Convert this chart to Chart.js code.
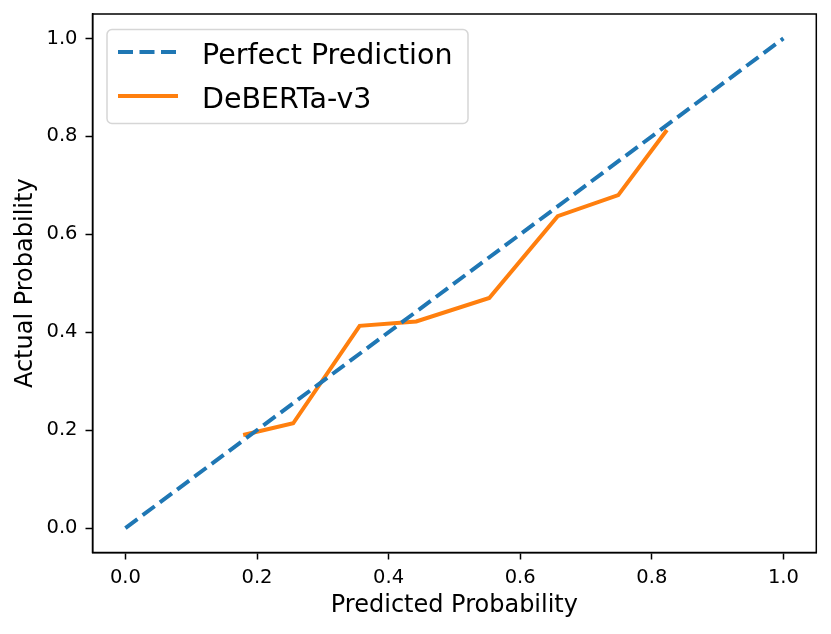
<!DOCTYPE html>
<html>
<head>
<meta charset="utf-8">
<script src="https://cdn.jsdelivr.net/npm/chart.js@4.4.1/dist/chart.umd.min.js"></script>
<style>
  html, body { margin: 0; padding: 0; background: #fff; }
  #wrap { width: 831px; height: 634px; }
</style>
</head>
<body>
<div id="wrap"><canvas id="calib" width="831" height="634"></canvas></div>
<script>
// reliability diagram data
const perfectX = [0.0, 1.0];
const perfectY = [0.0, 1.0];
const debertaX = [0.179, 0.255, 0.356, 0.442, 0.553, 0.657, 0.749, 0.823];
const debertaY = [0.190, 0.214, 0.413, 0.422, 0.470, 0.637, 0.680, 0.813];
const xTicks = [0.0, 0.2, 0.4, 0.6, 0.8, 1.0];
const yTicks = [0.0, 0.2, 0.4, 0.6, 0.8, 1.0];
const seriesNames = ['Perfect Prediction', 'DeBERTa-v3'];

const BLUE = '#1f77b4';
const ORANGE = '#ff7f0e';
const FONT = '"DejaVu Sans", sans-serif';

const toPoints = (xs, ys) => xs.map((x, i) => ({ x: x, y: ys[i] }));

// closes the box (top + right spines)
const frame = {
	id: 'frame',
	afterDraw(chart) {
		const { ctx, chartArea: a } = chart;
		ctx.save();
		ctx.strokeStyle = '#000';
		ctx.lineWidth = 1.5;
		ctx.strokeRect(a.left, a.top, a.right - a.left, a.bottom - a.top);
		ctx.restore();
	}
};

// matplotlib-style legend in upper left
const mplLegend = {
	id: 'mplLegend',
	afterDraw(chart) {
		const ctx = chart.ctx;
		const bx = 107, by = 29.5, bw = 361, bh = 94, r = 5;
		ctx.save();
		ctx.beginPath();
		ctx.roundRect(bx, by, bw, bh, r);
		ctx.fillStyle = 'rgba(255,255,255,0.8)';
		ctx.fill();
		ctx.lineWidth = 1.5;
		ctx.strokeStyle = 'rgba(204,204,204,0.8)';
		ctx.stroke();

		const ds = chart.data.datasets;
		const rows = [52, 96];
		ctx.lineCap = 'butt';
		ds.forEach((d, i) => {
			ctx.beginPath();
			ctx.setLineDash(d.borderDash || []);
			ctx.lineWidth = d.borderWidth;
			ctx.strokeStyle = d.borderColor;
			ctx.moveTo(118, rows[i]);
			ctx.lineTo(178, rows[i]);
			ctx.stroke();
		});
		ctx.setLineDash([]);
		ctx.fillStyle = '#000';
		ctx.font = '28.5px ' + FONT;
		ctx.textBaseline = 'alphabetic';
		ctx.textAlign = 'left';
		ds.forEach((d, i) => {
			ctx.fillText(d.label, 202, rows[i] + 11.5);
		});
		ctx.restore();
	}
};

function axis(ticks, title, titlePad, fitFn) {
	return {
		type: 'linear',
		min: -0.05,
		max: 1.05,
		afterBuildTicks: (s) => { s.ticks = ticks.map(v => ({ value: v })); },
		afterFit: fitFn,
		grid: {
			display: true,
			drawOnChartArea: false,
			drawTicks: true,
			tickLength: 7,
			tickWidth: 1.5,
			tickColor: '#000'
		},
		border: { display: true, color: '#000', width: 1.5 },
		ticks: {
			color: '#000',
			font: { family: FONT, size: 19.5 },
			callback: (v) => Number(v).toFixed(1)
		},
		title: {
			display: true,
			text: title,
			color: '#000',
			font: { family: FONT, size: 24 },
			padding: titlePad
		}
	};
}

const xScale = axis(xTicks, 'Predicted Probability', { top: 0, bottom: 13.5 }, (s) => {
	s.height = 81.5;
	s.paddingLeft = 0;
	s.paddingRight = 0;
});
xScale.ticks.padding = 6.5;
const yScale = axis(yTicks, 'Actual Probability', { top: 11.5, bottom: 0 }, (s) => {
	s.width = 92.5;
	s.paddingTop = 0;
	s.paddingBottom = 0;
});
yScale.ticks.padding = 8;

new Chart(document.getElementById('calib'), {
	type: 'scatter',
	data: {
		datasets: [
			{
				label: seriesNames[0],
				data: toPoints(perfectX, perfectY),
				showLine: true,
				borderColor: BLUE,
				backgroundColor: BLUE,
				borderWidth: 4,
				borderDash: [15, 6.5],
				pointRadius: 0,
				fill: false
			},
			{
				label: seriesNames[1],
				data: toPoints(debertaX, debertaY),
				showLine: true,
				borderColor: ORANGE,
				backgroundColor: ORANGE,
				borderWidth: 4,
				pointRadius: 0,
				fill: false
			}
		]
	},
	options: {
		responsive: false,
		animation: false,
		devicePixelRatio: 1,
		layout: { padding: { left: 0, right: 14.7, top: 14, bottom: 0 } },
		plugins: { legend: { display: false }, tooltip: { enabled: false } },
		scales: { x: xScale, y: yScale }
	},
	plugins: [frame, mplLegend]
});
</script>
</body>
</html>
